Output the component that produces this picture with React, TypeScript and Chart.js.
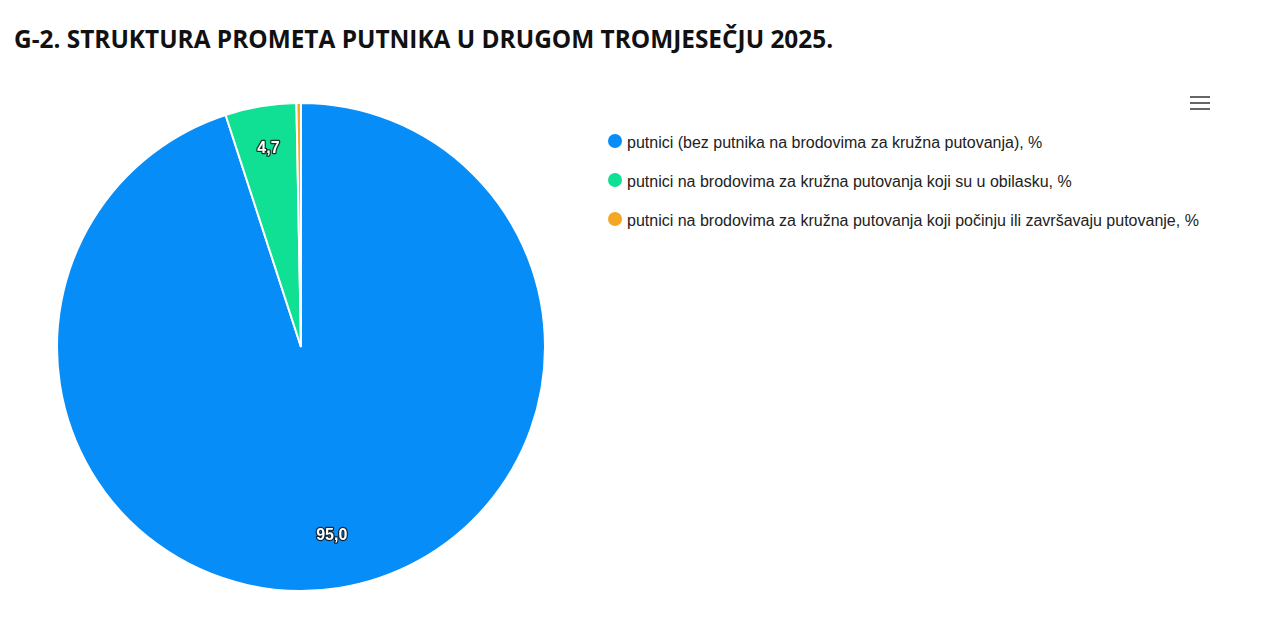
import React, { useEffect, useRef } from 'react'
import { Chart, registerables, Plugin } from 'chart.js'

Chart.register(...registerables)

const title = 'G-2. STRUKTURA PROMETA PUTNIKA U DRUGOM TROMJESEČJU 2025.'

const categories = [
  'putnici (bez putnika na brodovima za kružna putovanja), %',
  'putnici na brodovima za kružna putovanja koji su u obilasku, %',
  'putnici na brodovima za kružna putovanja koji počinju ili završavaju putovanje, %',
]
const shares = [95.0, 4.7, 0.3]
const sliceColors = ['#068df7', '#0fe093', '#f5a623']

const fmt = (v: number) => v.toFixed(1).replace('.', ',')

// white labels with a dark outline, inside the slices (small ones skipped)
const sliceLabels: Plugin<'pie'> = {
  id: 'sliceLabels',
  afterDatasetsDraw(chart) {
    const { ctx } = chart
    const meta = chart.getDatasetMeta(0)
    ctx.save()
    ctx.font = 'bold 16px "Liberation Sans", Arial, sans-serif'
    ctx.textAlign = 'center'
    ctx.textBaseline = 'middle'
    ctx.lineJoin = 'round'
    meta.data.forEach((el: any, i) => {
      const v = shares[i]
      if (v < 1) return
      const { x, y, startAngle, endAngle, outerRadius } = el.getProps(['x', 'y', 'startAngle', 'endAngle', 'outerRadius'], true)
      const mid = (startAngle + endAngle) / 2
      const d = outerRadius * 0.805
      const px = x + Math.cos(mid) * d
      const py = y + Math.sin(mid) * d - 5
      ctx.lineWidth = 2.5
      ctx.strokeStyle = 'rgba(20,20,20,0.85)'
      ctx.strokeText(fmt(v), px, py)
      ctx.fillStyle = '#ffffff'
      ctx.fillText(fmt(v), px, py)
    })
    ctx.restore()
  },
}

function PieChart() {
  const canvasRef = useRef<HTMLCanvasElement>(null)
  const chartRef = useRef<Chart | null>(null)

  useEffect(() => {
    if (!canvasRef.current) return
    if (chartRef.current) {
      chartRef.current.destroy()
      chartRef.current = null
    }
    chartRef.current = new Chart(canvasRef.current, {
      type: 'pie',
      data: {
        labels: categories,
        datasets: [
          {
            data: shares,
            backgroundColor: sliceColors,
            borderColor: '#ffffff',
            borderWidth: 2,
          },
        ],
      },
      options: {
        responsive: true,
        maintainAspectRatio: false,
        animation: false,
        layout: { padding: 0 },
        plugins: {
          legend: { display: false },
          tooltip: { enabled: false },
        },
      },
      plugins: [sliceLabels],
    })
    return () => {
      if (chartRef.current) {
        chartRef.current.destroy()
        chartRef.current = null
      }
    }
  }, [])

  return (
    <div style={{ position: 'absolute', left: 56, top: 102, width: 490, height: 490 }}>
      <canvas ref={canvasRef} />
    </div>
  )
}

export default function App() {
  return (
    <div style={{ position: 'fixed', left: 0, top: 0, width: 1280, height: 620, background: '#fff', overflow: 'hidden' }}>
      <div
        style={{
          position: 'absolute',
          left: 14,
          top: 27,
          fontFamily: '"Open Sans", sans-serif',
          fontWeight: 700,
          fontSize: 24.4,
          lineHeight: '24px',
          color: '#111',
          whiteSpace: 'nowrap',
        }}
      >
        {title}
      </div>

      <PieChart />

      {categories.map((c, i) => (
        <div key={c} style={{ position: 'absolute', left: 608, top: 135 + i * 39, height: 16 }}>
          <span
            style={{
              position: 'absolute',
              left: 0,
              top: -1,
              width: 14,
              height: 14,
              borderRadius: '50%',
              background: sliceColors[i],
            }}
          />
          <span
            style={{
              position: 'absolute',
              left: 19,
              top: 0,
              fontFamily: '"Liberation Sans", Arial, sans-serif',
              fontSize: 16,
              lineHeight: '16px',
              color: '#222',
              whiteSpace: 'nowrap',
            }}
          >
            {c}
          </span>
        </div>
      ))}

      {[0, 1, 2].map((k) => (
        <div
          key={k}
          style={{ position: 'absolute', left: 1190, top: 96 + k * 6, width: 20, height: 2, background: '#666' }}
        />
      ))}
    </div>
  )
}
